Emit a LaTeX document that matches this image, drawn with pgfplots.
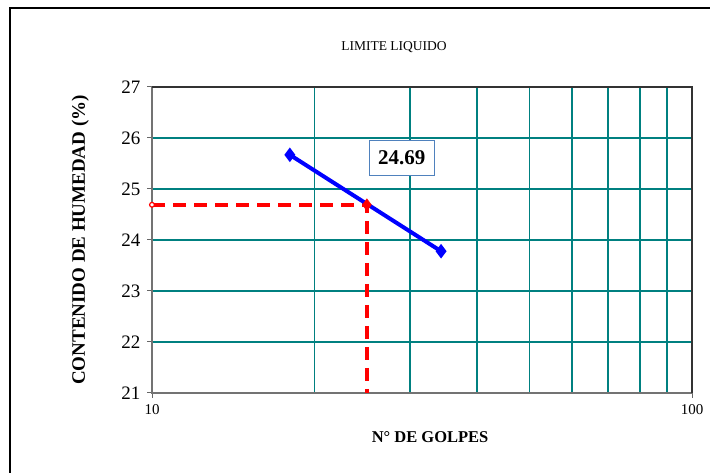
\documentclass[border=0pt]{standalone}
\usepackage{fontspec}
\setmainfont{Liberation Serif}
\usepackage{pgfplots}
\pgfplotsset{compat=1.18}
\definecolor{gridteal}{RGB}{0,128,128}
\definecolor{boxblue}{RGB}{79,129,189}
\begin{document}
\begin{tikzpicture}[x=1pt,y=1pt]
\useasboundingbox (0,0) rectangle (710,473);
% chart area frame (only left and top visible)
\draw[line width=1.2pt] (10,-5) -- (10,465) -- (720,465);
\node[font=\fontsize{13.5}{15}\selectfont] at (394,426) {LIMITE LIQUIDO};
\begin{axis}[
    at={(152pt,80pt)}, anchor=south west,
    scale only axis, width=540pt, height=306pt,
    xmode=log, xmin=10, xmax=100, ymin=21, ymax=27,
    xtick={10,100}, minor xtick={20,30,40,50,60,70,80,90},
    ytick={21,22,23,24,25,26,27},
    xtick pos=bottom, ytick pos=left,
    log ticks with fixed point,
    xminorgrids=true, xmajorgrids=false, ymajorgrids=true,
    grid style={gridteal, line width=1.8pt},
    minor grid style={gridteal, line width=1.8pt},
    minor tick length=0pt,
    major tick length=5pt,
    tick align=outside,
    tick style={black!60, line width=1pt},
    axis line style={black!55, line width=1.2pt},
    /pgf/number format/assume math mode=true,
    yticklabel style={font=\fontsize{19}{21}\selectfont, xshift=-3pt},
    xticklabel style={font=\fontsize{15}{17}\selectfont, yshift=-3pt},
    xlabel={N° DE GOLPES},
    ylabel={CONTENIDO DE HUMEDAD (\%)},
    xlabel style={font=\bfseries\fontsize{16.5}{19}\selectfont,
                  at={(axis description cs:0.515,-0.144)}, anchor=center},
    ylabel style={font=\bfseries\fontsize{19}{21}\selectfont,
                  at={(axis description cs:-0.133,0.5)}, anchor=center},
    clip=false,
]
% red dashed reading lines
\addplot[red, line width=4pt, dash pattern=on 13pt off 8pt] coordinates {
    (10,24.69) (25,24.69) (25,21)
};
\addplot[only marks, mark=*, mark size=2.4pt, draw=red, fill=white, line width=1.2pt]
    coordinates {(10,24.69)};
\addplot[only marks, mark=diamond*, mark size=6pt, red] coordinates {(25,24.69)};
% flow curve
\addplot[blue, line width=4pt, mark=diamond*, mark size=4pt] coordinates {
    (18,25.67) (34.3,23.78)
};
\node[draw=boxblue, fill=white, line width=1.2pt, inner sep=0pt,
      minimum width=65pt, minimum height=35pt,
      font=\bfseries\fontsize{21}{23}\selectfont] at (axis cs:29,25.61) {24.69};
\end{axis}
\draw[black!80, line width=1.2pt] (152,386) -- (692,386) -- (692,80);
\end{tikzpicture}
\end{document}
